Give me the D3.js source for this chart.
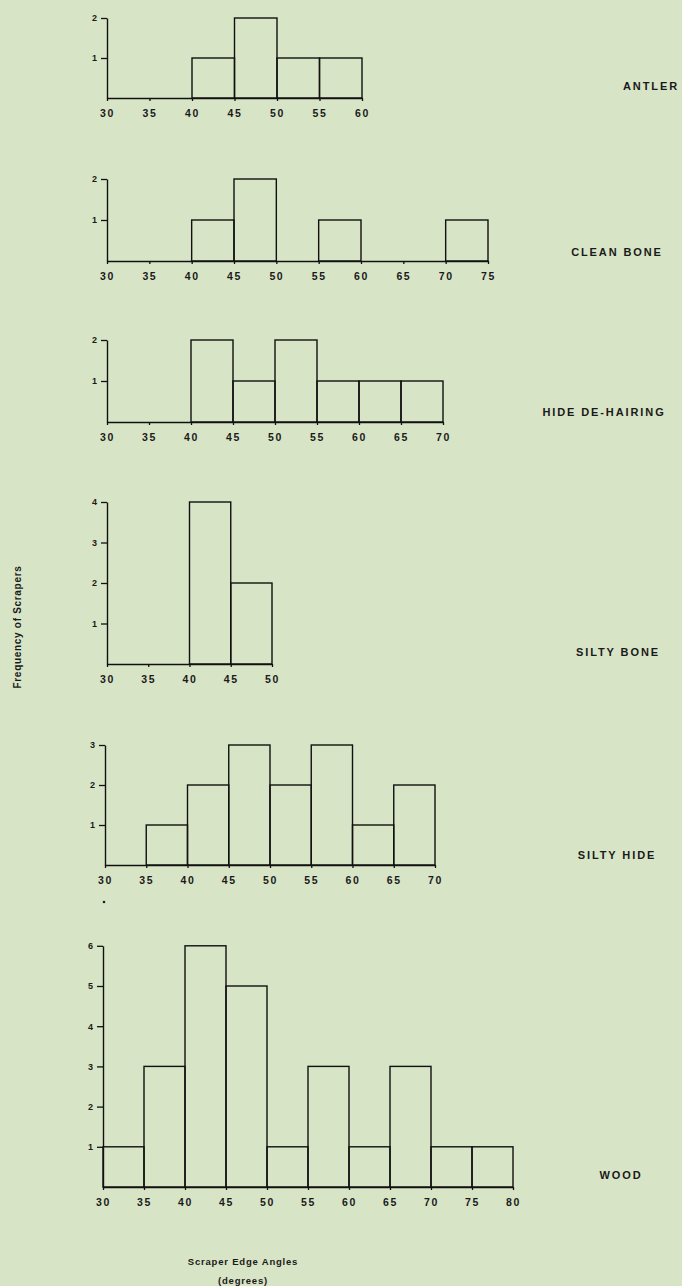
<!DOCTYPE html>
<html><head><meta charset="utf-8">
<script src="https://cdn.jsdelivr.net/npm/d3@7"></script>
<style>
html,body{margin:0;padding:0;background:#d8e4c6;}
svg{display:block;}
text{font-family:"Liberation Sans",Arial,sans-serif;font-weight:bold;fill:#1a1a1a;}
</style></head>
<body>
<script>
// ---- data ----
const materials = ["ANTLER","CLEAN BONE","HIDE DE-HAIRING","SILTY BONE","SILTY HIDE","WOOD"];
const binStart = 30, binWidth = 5;
const antler      = [0,0,1,2,1,1];
const cleanBone   = [0,0,1,2,0,1,0,0,1];
const hideDehair  = [0,0,2,1,2,1,1,1];
const siltyBone   = [0,0,4,2];
const siltyHide   = [0,1,2,3,2,3,1,2];
const wood        = [1,3,6,5,1,3,1,3,1,1];
const seriesList = [antler, cleanBone, hideDehair, siltyBone, siltyHide, wood];
const yTickValues = [[1,2],[1,2],[1,2],[1,2,3,4],[1,2,3],[1,2,3,4,5,6]];
const yTitle = "Frequency of Scrapers";
const xTitle = "Scraper Edge Angles";
const xSubTitle = "(degrees)";

// ---- layout (pixels) ----
const W = 682, H = 1286;
const panels = [
  {base:98,  unit:40,   x0:107, x1:362, lx:651, ly:90},
  {base:261, unit:41,   x0:107, x1:488, lx:617, ly:256},
  {base:422, unit:41,   x0:107, x1:443, lx:604, ly:416},
  {base:664, unit:40.5, x0:107, x1:272, lx:618, ly:656},
  {base:865, unit:40,   x0:105, x1:435, lx:617, ly:859},
  {base:1187,unit:40.2, x0:103, x1:513, lx:621, ly:1179}
];

const svg = d3.select("body").append("svg").attr("width",W).attr("height",H);

seriesList.forEach((vals,i)=>{
  const p = panels[i];
  const xEnd = binStart + vals.length*binWidth;
  const x = d3.scaleLinear().domain([binStart,xEnd]).range([p.x0,p.x1]);
  const maxY = d3.max(yTickValues[i]);
  const y = d3.scaleLinear().domain([0,maxY]).range([p.base,p.base - maxY*p.unit]);
  const g = svg.append("g");

  const bins = vals.map((v,k)=>({lo:binStart+k*binWidth, hi:binStart+(k+1)*binWidth, v}));
  g.selectAll("rect").data(bins.filter(b=>b.v>0)).join("rect")
    .attr("x",d=>x(d.lo)).attr("width",d=>x(d.hi)-x(d.lo))
    .attr("y",d=>y(d.v)).attr("height",d=>y(0)-y(d.v))
    .attr("fill","none").attr("stroke","#111").attr("stroke-width",1.4);

  const ticks = d3.range(binStart, xEnd+0.1, binWidth);
  const xa = g.append("g").attr("transform",`translate(0,${p.base})`)
    .call(d3.axisBottom(x).tickValues(ticks).tickSize(3).tickSizeOuter(0).tickPadding(9).tickFormat(d3.format("d")));
  const ya = g.append("g").attr("transform",`translate(${p.x0},0)`)
    .call(d3.axisLeft(y).tickValues(yTickValues[i]).tickSize(6).tickSizeOuter(0).tickPadding(4).tickFormat(d3.format("d")));
  [xa,ya].forEach(a=>{
    a.select(".domain").attr("stroke","#111").attr("stroke-width",1.4);
    a.selectAll(".tick line").attr("stroke","#111").attr("stroke-width",1.3);
    a.selectAll("text").attr("fill","#1a1a1a");
  });
  xa.selectAll("text").style("font-size","10.5px").style("letter-spacing","1.6px");
  ya.selectAll("text").style("font-size","9px");

  svg.append("text").attr("x",p.lx).attr("y",p.ly).attr("text-anchor","middle")
    .style("font-size","11px").style("letter-spacing","1.9px").text(materials[i]);
});

// stray dot under SILTY HIDE
svg.append("circle").attr("cx",104).attr("cy",902).attr("r",1.3).attr("fill","#222");

svg.append("text").attr("transform","translate(21,627) rotate(-90)").attr("text-anchor","middle")
  .style("font-size","10px").style("letter-spacing","0.7px").text(yTitle);
svg.append("text").attr("x",243).attr("y",1265).attr("text-anchor","middle")
  .style("font-size","9.5px").style("letter-spacing","0.8px").text(xTitle);
svg.append("text").attr("x",243).attr("y",1284).attr("text-anchor","middle")
  .style("font-size","9.5px").style("letter-spacing","0.8px").text(xSubTitle);
</script>
</body></html>
